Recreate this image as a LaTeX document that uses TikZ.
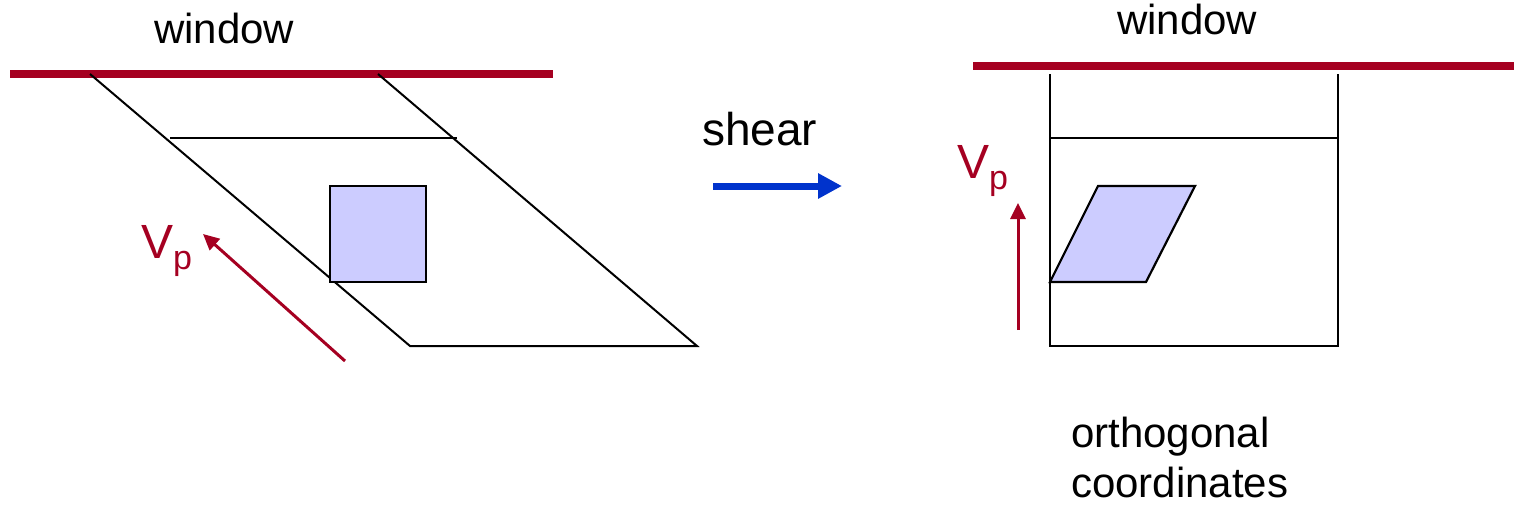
\documentclass[tikz,border=0pt]{standalone}
\usepackage{fontspec}
\setmainfont{Liberation Sans}
\usetikzlibrary{arrows.meta}
\definecolor{winred}{RGB}{165,0,33}
\definecolor{shearblue}{RGB}{0,51,204}
\definecolor{cellfill}{RGB}{204,204,255}
\tikzset{
  lbl/.style={inner sep=0pt, anchor=base west, font=\fontsize{42}{50}\selectfont},
  vlbl/.style={inner sep=0pt, anchor=base west, text=winred, font=\fontsize{48}{56}\selectfont},
  winline/.style={draw=winred, line width=8pt},
  edge/.style={draw=black, line width=2pt},
  cell/.style={draw=black, line width=2.2pt, fill=cellfill, line join=miter},
  vparrow/.style={draw=winred, line width=3pt, -{Triangle[length=16pt,width=15pt]}},
  sheararrow/.style={draw=shearblue, line width=7pt, -{Triangle[length=24pt,width=24pt]}}
}
\begin{document}
\begin{tikzpicture}[x=1pt,y=-1pt]
\useasboundingbox (0,0) rectangle (1514,506);
% ---------- left: oblique coordinates ----------
\node[lbl] (winL) at (154,43) {window};
\coordinate (wl1) at (10,74);
\coordinate (wl2) at (553,74);
\draw[winline] (wl1) -- (wl2);
\coordinate (pA) at (90,74);
\coordinate (pB) at (410,346);
\coordinate (pC) at (697,346);
\coordinate (pD) at (378,74);
\draw[edge] (pA) -- (pB) -- (pC) -- (pD);
\coordinate (hl1) at (170,138);
\coordinate (hl2) at (457,138);
\draw[edge] (hl1) -- (hl2);
\filldraw[cell] (330,186) rectangle (426,282);
\coordinate (vpL1) at (345,361);
\coordinate (vpL2) at (203,234);
\draw[vparrow] (vpL1) -- (vpL2);
\node[vlbl] (VpL) at (141,258) {V\raisebox{-11pt}{\fontsize{34}{40}\selectfont p}};
% ---------- shear ----------
\node[lbl, font=\fontsize{46}{54}\selectfont] (shear) at (702,145) {shear};
\coordinate (sa1) at (713,186);
\coordinate (sa2) at (842,186);
\draw[sheararrow] (sa1) -- (sa2);
% ---------- right: orthogonal coordinates ----------
\node[lbl] (winR) at (1117,34) {window};
\coordinate (wr1) at (973,66);
\coordinate (wr2) at (1514,66);
\draw[winline] (wr1) -- (wr2);
\coordinate (rA) at (1050,74);
\coordinate (rB) at (1050,346);
\coordinate (rC) at (1338,346);
\coordinate (rD) at (1338,74);
\draw[edge] (rA) -- (rB) -- (rC) -- (rD);
\coordinate (rh1) at (1050,138);
\coordinate (rh2) at (1338,138);
\draw[edge] (rh1) -- (rh2);
\filldraw[cell] (1050,282) -- (1146,282) -- (1195,186) -- (1098,186) -- cycle;
\coordinate (vpR1) at (1018,330);
\coordinate (vpR2) at (1018,203);
\draw[vparrow] (vpR1) -- (vpR2);
\node[vlbl] (VpR) at (957,178) {V\raisebox{-11pt}{\fontsize{34}{40}\selectfont p}};
\node[lbl] (orth1) at (1071,447) {orthogonal};
\node[lbl] (orth2) at (1071,497) {coordinates};
\end{tikzpicture}
\end{document}
